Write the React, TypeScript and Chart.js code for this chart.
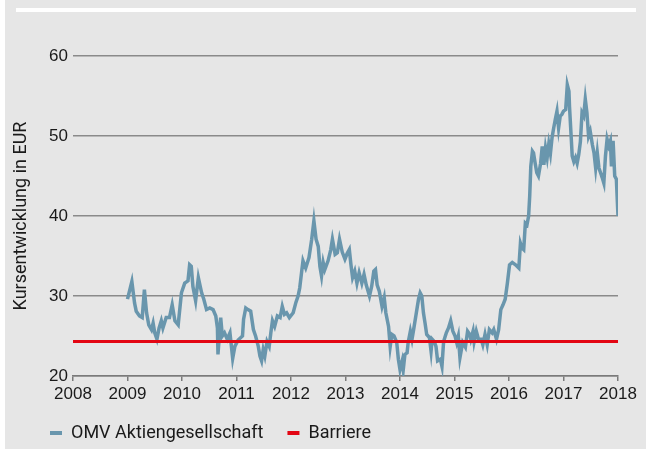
import React, { useEffect, useRef } from 'react';
import { Chart, registerables } from 'chart.js';

Chart.register(...registerables);

const seriesNames = ['OMV Aktiengesellschaft', 'Barriere'];
const xTickLabels = ['2008', '2009', '2010', '2011', '2012', '2013', '2014', '2015', '2016', '2017', '2018'];
const yTickValues = [20, 30, 40, 50, 60];
const yAxisTitle = 'Kursentwicklung in EUR';

const omvYears = [
  2009.00, 2009.08, 2009.13, 2009.16, 2009.22, 2009.27, 2009.31, 2009.35, 2009.39, 2009.44,
  2009.47, 2009.50, 2009.54, 2009.58, 2009.62, 2009.65, 2009.71, 2009.77, 2009.82, 2009.87,
  2009.93, 2009.99, 2010.05, 2010.11, 2010.14, 2010.17, 2010.20, 2010.25, 2010.30, 2010.36,
  2010.40, 2010.45, 2010.51, 2010.57, 2010.62, 2010.65, 2010.66, 2010.71, 2010.74, 2010.78,
  2010.83, 2010.88, 2010.93, 2010.97, 2011.03, 2011.11, 2011.13, 2011.17, 2011.21, 2011.26,
  2011.31, 2011.35, 2011.40, 2011.43, 2011.46, 2011.49, 2011.52, 2011.56, 2011.60, 2011.63,
  2011.66, 2011.70, 2011.75, 2011.80, 2011.84, 2011.88, 2011.92, 2011.97, 2012.04, 2012.09,
  2012.13, 2012.16, 2012.20, 2012.22, 2012.27, 2012.33, 2012.38, 2012.42, 2012.46, 2012.50,
  2012.53, 2012.56, 2012.59, 2012.62, 2012.68, 2012.73, 2012.76, 2012.81, 2012.85, 2012.89,
  2012.94, 2012.99, 2013.03, 2013.07, 2013.10, 2013.13, 2013.17, 2013.21, 2013.25, 2013.30,
  2013.34, 2013.38, 2013.44, 2013.48, 2013.52, 2013.55, 2013.58, 2013.62, 2013.67, 2013.71,
  2013.74, 2013.79, 2013.82, 2013.85, 2013.89, 2013.94, 2013.97, 2014.00, 2014.04, 2014.06,
  2014.09, 2014.13, 2014.15, 2014.19, 2014.22, 2014.25, 2014.30, 2014.34, 2014.37, 2014.40,
  2014.43, 2014.46, 2014.49, 2014.54, 2014.57, 2014.59, 2014.63, 2014.66, 2014.69, 2014.74,
  2014.77, 2014.80, 2014.85, 2014.89, 2014.93, 2014.97, 2015.01, 2015.04, 2015.07, 2015.10,
  2015.15, 2015.20, 2015.24, 2015.28, 2015.30, 2015.34, 2015.36, 2015.40, 2015.44, 2015.49,
  2015.52, 2015.56, 2015.60, 2015.64, 2015.69, 2015.72, 2015.77, 2015.81, 2015.85, 2015.89,
  2015.93, 2015.97, 2016.01, 2016.06, 2016.12, 2016.18, 2016.21, 2016.24, 2016.27, 2016.30,
  2016.33, 2016.36, 2016.38, 2016.40, 2016.43, 2016.45, 2016.48, 2016.51, 2016.54, 2016.58,
  2016.61, 2016.64, 2016.67, 2016.70, 2016.73, 2016.76, 2016.79, 2016.82, 2016.85, 2016.88,
  2016.91, 2016.94, 2016.97, 2017.00, 2017.04, 2017.07, 2017.10, 2017.11, 2017.14, 2017.16,
  2017.19, 2017.22, 2017.25, 2017.28, 2017.31, 2017.34, 2017.37, 2017.40, 2017.43, 2017.46,
  2017.49, 2017.53, 2017.56, 2017.59, 2017.62, 2017.65, 2017.68, 2017.71, 2017.74, 2017.77,
  2017.80, 2017.83, 2017.86, 2017.88, 2017.91, 2017.94, 2017.97, 2018.00,
];

const omvPrices = [
  29.6, 31.8, 29.1, 28.1, 27.5, 27.3, 30.8, 27.9, 26.4, 25.8,
  26.6, 25.4, 24.6, 26.0, 26.9, 26.0, 27.3, 27.3, 28.9, 26.9,
  26.4, 30.4, 31.6, 31.9, 33.9, 33.7, 31.2, 29.4, 32.3, 30.4,
  29.6, 28.3, 28.5, 28.3, 27.5, 26.0, 22.7, 27.3, 25.0, 25.4,
  24.6, 25.4, 22.2, 23.7, 24.5, 25.0, 27.1, 28.5, 28.3, 28.1,
  25.8, 25.0, 23.7, 22.5, 21.9, 23.3, 22.5, 24.3, 23.7, 25.4,
  26.9, 26.2, 27.5, 27.3, 28.7, 27.7, 27.9, 27.3, 27.9, 29.2,
  30.0, 31.0, 33.3, 34.4, 33.5, 34.8, 37.1, 39.4, 37.1, 36.2,
  33.7, 32.5, 34.2, 33.3, 34.4, 35.8, 37.1, 35.2, 35.4, 37.1,
  35.5, 34.6, 35.3, 35.8, 33.9, 32.3, 33.1, 31.6, 32.9, 31.6,
  32.7, 31.4, 30.0, 31.2, 33.1, 33.3, 31.4, 30.6, 28.7, 29.8,
  27.9, 26.2, 23.7, 25.2, 25.0, 24.2, 22.1, 20.8, 21.9, 20.8,
  22.7, 22.9, 24.2, 25.6, 24.6, 25.8, 27.9, 29.6, 30.4, 30.0,
  27.9, 26.6, 25.2, 24.8, 23.1, 24.6, 24.3, 23.7, 21.9, 22.1,
  21.2, 24.3, 25.4, 26.0, 26.9, 25.6, 25.0, 24.2, 25.0, 22.3,
  24.2, 23.6, 25.6, 25.2, 24.6, 25.6, 24.3, 25.6, 24.6, 24.6,
  23.9, 25.2, 23.9, 25.8, 25.4, 25.8, 24.6, 25.8, 28.3, 28.9,
  29.6, 31.6, 33.9, 34.2, 33.9, 33.5, 36.6, 36.0, 35.8, 39.1,
  38.9, 40.0, 42.5, 46.2, 48.1, 47.9, 46.6, 45.4, 45.0, 46.6,
  48.7, 46.4, 48.5, 47.3, 49.0, 47.8, 49.8, 51.0, 52.1, 53.1,
  51.0, 52.5, 52.7, 53.1, 53.3, 56.4, 55.6, 53.7, 50.0, 47.5,
  46.8, 47.3, 46.6, 47.7, 49.3, 52.9, 52.5, 54.6, 52.9, 50.0,
  50.6, 48.9, 47.9, 46.0, 47.9, 46.0, 45.4, 44.8, 44.1, 47.5,
  49.6, 48.8, 49.4, 46.2, 49.4, 45.0, 44.6, 40.0,
];

const barrierYears = [2008, 2018];
const barrierValues = [24.3, 24.3];

const OMV_COLOR = '#6996ad';
const BARRIER_COLOR = '#e30613';
const TEXT_COLOR = '#1a1a1a';
const TICK_FONT = { family: "'Liberation Sans', Arial, sans-serif", size: 17 };
const LABEL_FONT = { family: "Roboto, 'Liberation Sans', sans-serif", size: 18 };

export default function App() {
  const canvasRef = useRef<HTMLCanvasElement>(null);

  useEffect(() => {
    document.body.style.margin = '0';
    const canvas = canvasRef.current;
    if (!canvas) return;
    const chart = new Chart(canvas, {
      type: 'line',
      data: {
        datasets: [
          {
            label: seriesNames[0],
            data: omvYears.map((x, i) => ({ x, y: omvPrices[i] })),
            borderColor: OMV_COLOR,
            backgroundColor: OMV_COLOR,
            borderWidth: 3.5,
            pointRadius: 0,
            tension: 0,
            order: 1,
          },
          {
            label: seriesNames[1],
            data: barrierYears.map((x, i) => ({ x, y: barrierValues[i] })),
            borderColor: BARRIER_COLOR,
            backgroundColor: BARRIER_COLOR,
            borderWidth: 3,
            pointRadius: 0,
            order: 0,
          },
        ],
      },
      options: {
        responsive: false,
        animation: false,
        events: [],
        layout: { padding: { left: 26, right: 33, top: 56, bottom: 0 } },
        plugins: {
          tooltip: { enabled: false },
          legend: {
            position: 'bottom',
            align: 'start',
            labels: {
              boxWidth: 12,
              boxHeight: 4,
              padding: 24,
              color: TEXT_COLOR,
              font: LABEL_FONT,
              sort: (a: any, b: any) => a.datasetIndex - b.datasetIndex,
              generateLabels: (c: any) =>
                (Chart.defaults.plugins.legend.labels as any)
                  .generateLabels(c)
                  .map((l: any) => ({ ...l, lineWidth: 0 })),
            },
          },
        },
        scales: {
          x: {
            type: 'linear',
            min: 2008,
            max: 2018,
            afterBuildTicks: (scale: any) => {
              scale.ticks = xTickLabels.map((l) => ({ value: Number(l) }));
            },
            afterFit: (scale: any) => {
              scale.height = 24;
            },
            ticks: {
              autoSkip: false,
              maxRotation: 0,
              padding: 3,
              color: TEXT_COLOR,
              font: TICK_FONT,
              callback: (v: any) => xTickLabels.find((l) => Number(l) === v) ?? '',
            },
            grid: {
              drawOnChartArea: false,
              drawTicks: true,
              tickLength: 5,
              color: '#7a7a7a',
              lineWidth: 1.5,
            },
            border: { display: true, color: '#7a7a7a', width: 1.5 },
          },
          y: {
            min: 20,
            max: 60,
            afterBuildTicks: (scale: any) => {
              scale.ticks = yTickValues.map((v) => ({ value: v }));
            },
            afterFit: (scale: any) => {
              scale.width = 47;
            },
            ticks: {
              padding: 5,
              color: TEXT_COLOR,
              font: TICK_FONT,
            },
            grid: { color: '#8a8a8a', lineWidth: 1.5, drawTicks: false },
            border: { display: false },
            title: {
              display: true,
              text: yAxisTitle,
              color: TEXT_COLOR,
              font: LABEL_FONT,
              padding: { top: -15, bottom: 0 },
            },
          },
        },
      },
    } as any);
    return () => chart.destroy();
  }, []);

  return (
    <div style={{ position: 'relative', width: 651, height: 452, background: '#ffffff', overflow: 'hidden' }}>
      <div style={{ position: 'absolute', left: 5, top: 0, width: 641, height: 449, background: '#e6e6e6' }} />
      <div style={{ position: 'absolute', left: 16, top: 8, width: 620, height: 4, background: '#ffffff' }} />
      <canvas ref={canvasRef} width={651} height={452} style={{ position: 'absolute', left: 0, top: 0 }} />
    </div>
  );
}
